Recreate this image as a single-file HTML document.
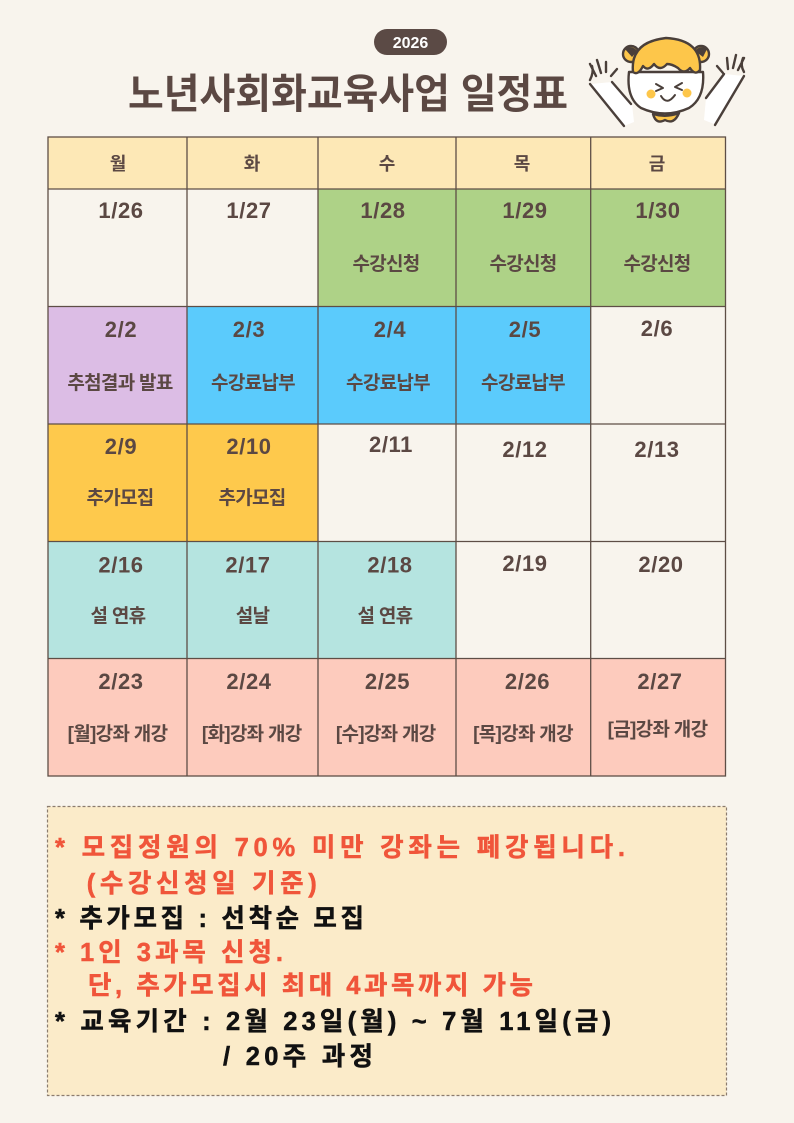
<!DOCTYPE html>
<html>
<head>
<meta charset="utf-8">
<style>
  html,body{margin:0;padding:0;background:#f8f4ed;}
  body{width:794px;height:1123px;overflow:hidden;position:relative;}
  svg{position:absolute;left:0;top:0;}
  text{font-family:"Liberation Sans","Noto Sans CJK KR",sans-serif;}
</style>
</head>
<body>
<svg width="794" height="1123" viewBox="0 0 794 1123" xmlns="http://www.w3.org/2000/svg">
  <rect x="0" y="0" width="794" height="1123" fill="#f8f4ed"/>

  <!-- 2026 pill -->
  <rect x="374" y="29" width="73" height="26" rx="13" fill="#5b4a45"/>
  <text x="410.5" y="48" text-anchor="middle" fill="#ffffff" font-size="16" font-weight="700">2026</text>

  <!-- Title -->
  <text x="128" y="108" textLength="440" lengthAdjust="spacingAndGlyphs" fill="#5b4843" font-size="41" font-weight="700">노년사회화교육사업 일정표</text>

  <!-- Character -->
  <g stroke="#4a3f3a" stroke-width="2.4" stroke-linecap="round" stroke-linejoin="round" fill="none">
    <path d="M591 84 L624 126 L634 122 L632 104 L612 82 Z" fill="#ffffff" stroke="none"/>
    <path d="M744 76 L714 124 L704 120 L706 98 L724 74 Z" fill="#ffffff" stroke="none"/>
    <line x1="590" y1="84" x2="624" y2="126"/>
    <line x1="612" y1="82" x2="631" y2="104"/>
    <line x1="744" y1="76" x2="715" y2="125"/>
    <line x1="724" y1="74" x2="706" y2="98"/>
    <path d="M590 80 Q594 72 592 66 M596 76 L590 64 M601 73 L597 60 M606 72 L606 62 M611 76 L617 69"/>
    <path d="M744 72 Q740 65 743 58 M738 70 L744 58 M733 68 L736 55 M728 69 L727 58 M723 73 L717 66"/>
    <circle cx="631" cy="54" r="8" fill="#fdc64a"/>
    <path d="M625 49 A8 8 0 0 1 637 51 L632 57 Z" fill="#4a3f3a" stroke="none"/>
    <circle cx="701" cy="54" r="8" fill="#fdc64a"/>
    <path d="M695 51 A8 8 0 0 1 707 49 L703 57 Z" fill="#4a3f3a" stroke="none"/>
    <path d="M629 72 Q626 98 641 108 Q665 119 689 108 Q705 98 703 72 Z" fill="#ffffff"/>
    <path d="M633 72 Q630 42 666 38 Q702 40 700 70 Q695 76 690 68 Q684 75 678 68 Q672 64 667 64 Q660 72 654 64 Q648 72 643 66 Q638 76 633 72 Z" fill="#fdc64a"/>
    <path d="M656 84 L663 88 L656 91" stroke-width="2"/>
    <path d="M682 83 L675 87 L682 90" stroke-width="2"/>
    <path d="M661 96 Q667 106 675 95" stroke-width="2"/>
    <path d="M653 114 Q656 125 665 120 Q674 125 679 113 Q666 118 653 114 Z" fill="#fdc64a"/>
  </g>
  <circle cx="651" cy="94" r="4.5" fill="#fdc64a"/>
  <circle cx="687" cy="93" r="4.5" fill="#fdc64a"/>

  <!-- Table fills -->
  <rect x="48" y="137" width="677.5" height="52" fill="#fde8b6"/>
  <rect x="318" y="189" width="407.5" height="117.5" fill="#aed287"/>
  <rect x="48" y="306.5" width="139" height="117.5" fill="#dcbde5"/>
  <rect x="187" y="306.5" width="403.7" height="117.5" fill="#5bcbfc"/>
  <rect x="48" y="424" width="270" height="117.5" fill="#fec94c"/>
  <rect x="48" y="541.5" width="408" height="117" fill="#b5e4e0"/>
  <rect x="48" y="658.5" width="677.5" height="117.5" fill="#fdcbbd"/>

  <!-- Grid -->
  <g stroke="#5e4e46" stroke-width="1.3">
    <rect x="48" y="137" width="677.5" height="639" fill="none"/>
    <line x1="187" y1="137" x2="187" y2="776"/>
    <line x1="318" y1="137" x2="318" y2="776"/>
    <line x1="456" y1="137" x2="456" y2="776"/>
    <line x1="590.7" y1="137" x2="590.7" y2="776"/>
    <line x1="48" y1="189" x2="725.5" y2="189"/>
    <line x1="48" y1="306.5" x2="725.5" y2="306.5"/>
    <line x1="48" y1="424" x2="725.5" y2="424"/>
    <line x1="48" y1="541.5" x2="725.5" y2="541.5"/>
    <line x1="48" y1="658.5" x2="725.5" y2="658.5"/>
  </g>

  <!-- Header labels -->
  <g fill="#5b4843" font-size="18" font-weight="700" text-anchor="middle">
    <text x="118" y="170">월</text>
    <text x="252" y="170">화</text>
    <text x="387" y="170">수</text>
    <text x="522" y="170">목</text>
    <text x="657" y="170">금</text>
  </g>

  <!-- Dates -->
  <g fill="#5b4843" font-size="22" font-weight="700" text-anchor="middle" letter-spacing="0.6">
    <text x="121" y="218">1/26</text>
    <text x="249" y="218">1/27</text>
    <text x="383" y="218">1/28</text>
    <text x="525" y="218">1/29</text>
    <text x="658" y="218">1/30</text>

    <text x="121" y="337">2/2</text>
    <text x="249" y="337">2/3</text>
    <text x="390" y="337">2/4</text>
    <text x="525" y="337">2/5</text>
    <text x="657" y="336">2/6</text>

    <text x="121" y="454">2/9</text>
    <text x="249" y="454">2/10</text>
    <text x="391" y="452">2/11</text>
    <text x="525" y="457">2/12</text>
    <text x="657" y="457">2/13</text>

    <text x="121" y="572.5">2/16</text>
    <text x="248" y="572.5">2/17</text>
    <text x="390" y="572.5">2/18</text>
    <text x="525" y="571">2/19</text>
    <text x="661" y="572">2/20</text>

    <text x="121" y="689">2/23</text>
    <text x="249" y="689">2/24</text>
    <text x="387.5" y="689">2/25</text>
    <text x="527.5" y="689">2/26</text>
    <text x="660" y="689">2/27</text>
  </g>

  <!-- Events -->
  <g fill="#5b4843" font-size="19" font-weight="700" text-anchor="middle" letter-spacing="-0.7">
    <text x="386" y="270">수강신청</text>
    <text x="523" y="270">수강신청</text>
    <text x="657" y="270">수강신청</text>

    <text x="120" y="389">추첨결과 발표</text>
    <text x="253" y="389">수강료납부</text>
    <text x="388" y="389">수강료납부</text>
    <text x="523" y="389">수강료납부</text>

    <text x="120" y="504">추가모집</text>
    <text x="252" y="504">추가모집</text>

    <text x="118" y="622">설 연휴</text>
    <text x="252.5" y="622">설날</text>
    <text x="385" y="622">설 연휴</text>

    <text x="117.5" y="740">[월]강좌 개강</text>
    <text x="251.7" y="740">[화]강좌 개강</text>
    <text x="385.7" y="740">[수]강좌 개강</text>
    <text x="523" y="740">[목]강좌 개강</text>
    <text x="657.5" y="735.5">[금]강좌 개강</text>
  </g>

  <!-- Note box -->
  <rect x="47.5" y="806.5" width="679" height="289" fill="#fbebc9" stroke="#8b7b6e" stroke-width="1.2" stroke-dasharray="3 2"/>
  <g font-size="25.5" font-weight="700" stroke-width="0.5">
    <text x="55" y="856" fill="#f0553a" stroke="#f0553a" textLength="570" lengthAdjust="spacing">* 모집정원의 70% 미만 강좌는 폐강됩니다.</text>
    <text x="86.7" y="892" fill="#f0553a" stroke="#f0553a" textLength="230" lengthAdjust="spacing">(수강신청일 기준)</text>
    <text x="55" y="927" fill="#111111" stroke="#111111" textLength="309" lengthAdjust="spacing">* 추가모집 : 선착순 모집</text>
    <text x="55" y="961" fill="#f0553a" stroke="#f0553a" textLength="228" lengthAdjust="spacing">* 1인 3과목 신청.</text>
    <text x="88" y="994" fill="#f0553a" stroke="#f0553a" textLength="445" lengthAdjust="spacing">단, 추가모집시 최대 4과목까지 가능</text>
    <text x="55" y="1030" fill="#111111" stroke="#111111" textLength="556" lengthAdjust="spacing">* 교육기간 : 2월 23일(월) ~ 7월 11일(금)</text>
    <text x="223" y="1065" fill="#111111" stroke="#111111" textLength="150" lengthAdjust="spacing">/ 20주 과정</text>
  </g>
</svg>
</body>
</html>
